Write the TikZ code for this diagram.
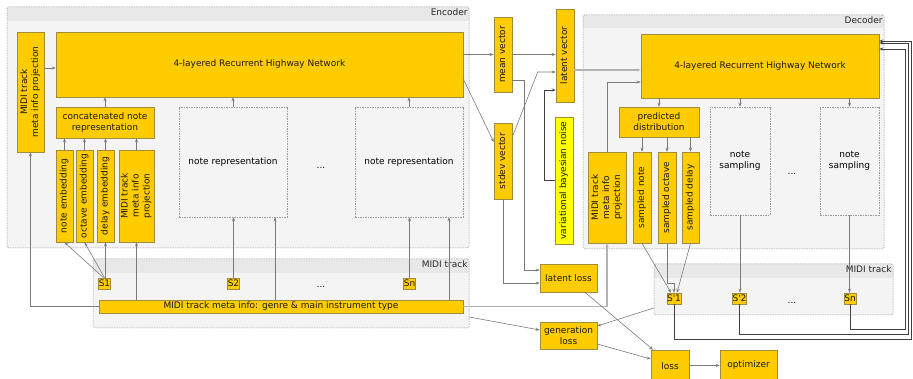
\documentclass[tikz,border=0pt]{standalone}
\usepackage{fontspec}
\setmainfont{DejaVu Sans}
\usetikzlibrary{arrows.meta}

\definecolor{gold}{HTML}{FFCC00}
\definecolor{goldline}{HTML}{A08C3C}
\definecolor{noisefill}{HTML}{FFFF00}
\definecolor{groupfill}{HTML}{F4F4F4}
\definecolor{bandfill}{HTML}{E8E8E8}
\definecolor{groupline}{HTML}{9A9A9A}
\definecolor{wire}{HTML}{7A7A7A}

\newcommand{\vlabel}[1]{\rotatebox{90}{\begin{tabular}{@{}c@{}}#1\end{tabular}}}

\tikzset{
  box/.style={draw=goldline, fill=gold, inner sep=0pt, line width=0.6pt, text=black!90},
  noisebox/.style={box, fill=noisefill},
  ghost/.style={draw=groupline, fill=groupfill, inner sep=0pt, line width=0.5pt,
    dash pattern=on 1.5pt off 1pt, align=center},
  group/.style={draw=groupline, fill=groupfill, inner sep=0pt, line width=0.5pt,
    dash pattern=on 1.5pt off 1pt, rounded corners=1.5pt,
    path picture={\fill[bandfill] (path picture bounding box.north west)
      rectangle ([yshift=-#1]path picture bounding box.north east);}},
  group/.default=14pt,
  grouplabel/.style={anchor=north east, inner sep=1.5pt, text=black!85},
  flow/.style={draw=wire, line width=0.6pt, -{Stealth[length=4pt,width=3pt]}},
  darkflow/.style={flow, draw=black!75, line width=0.9pt},
  paleflow/.style={flow, draw=black!30, line width=1.1pt}
}

\begin{document}
\begin{tikzpicture}[x=1pt,y=-1pt,font=\fontsize{9}{11}\selectfont]
  \useasboundingbox (0,0) rectangle (913,379);

  \node[group, minimum width=462, minimum height=241] (encoder) at (238,127.5) {};
  \node[grouplabel] (encoderLabel) at (encoder.north east) {Encoder};
  \node[box, minimum width=407, minimum height=65] (encRHN) at (259.5,64.5) {4-layered Recurrent Highway Network};
  \node[box, minimum width=27, minimum height=120] (encProj) at (30.5,92) {\vlabel{MIDI track\\meta info projection}};
  \node[box, minimum width=98, minimum height=31, align=center] (concat) at (105,122.5) {concatenated note\\representation};
  \node[box, minimum width=17, minimum height=92] (noteEmb) at (64.5,196) {\vlabel{note embedding}};
  \node[box, minimum width=17, minimum height=92] (octEmb) at (84.5,196) {\vlabel{octave embedding}};
  \node[box, minimum width=17, minimum height=92] (delayEmb) at (105.5,196) {\vlabel{delay embedding}};
  \node[box, minimum width=35, minimum height=92] (encProjNote) at (136.5,196) {\vlabel{MIDI track\\meta info\\projection}};
  \node[ghost, minimum width=108, minimum height=110] (noteRepA) at (233,162) {note representation};
  \node (dotsEnc) at (321,168) {...};
  \node[ghost, minimum width=108, minimum height=110] (noteRepN) at (409,162) {note representation};

  \node[group, minimum width=376, minimum height=69] (encTrack) at (281,293.5) {};
  \node[grouplabel] (encTrackLabel) at (encTrack.north east) {MIDI track};
  \node[box, minimum width=11, minimum height=11] (S1) at (104.5,283.5) {S1};
  \node[box, minimum width=11, minimum height=11] (S2) at (233.5,283.5) {S2};
  \node (dotsTrack) at (321,287) {...};
  \node[box, minimum width=11, minimum height=11] (Sn) at (409.5,283.5) {Sn};
  \node[box, minimum width=364, minimum height=13] (meta) at (281,306.5) {MIDI track meta info: genre \& main instrument type};

  \node[box, minimum width=18, minimum height=75] (mean) at (503,54.5) {\vlabel{mean vector}};
  \node[box, minimum width=18, minimum height=76] (stdev) at (503,161) {\vlabel{stdev vector}};
  \node[box, minimum width=18, minimum height=93] (latent) at (565,55.5) {\vlabel{latent vector}};
  \node[noisebox, minimum width=18, minimum height=127] (noise) at (564,180.5) {\vlabel{variational bayesian noise}};

  \node[group, minimum width=301, minimum height=234, group=13pt] (decoder) at (733.5,132) {};
  \node[grouplabel] (decoderLabel) at (decoder.north east) {Decoder};
  \node[box, minimum width=238, minimum height=64] (decRHN) at (760,66) {4-layered Recurrent Highway Network};
  \node[box, minimum width=80, minimum height=30, align=center] (pred) at (659,122) {predicted\\distribution};
  \node[box, minimum width=38, minimum height=91] (decProj) at (607,197.5) {\vlabel{MIDI track\\meta info\\projection}};
  \node[box, minimum width=18, minimum height=91] (sNote) at (642,197.5) {\vlabel{sampled note}};
  \node[box, minimum width=18, minimum height=91] (sOct) at (667,197.5) {\vlabel{sampled octave}};
  \node[box, minimum width=17, minimum height=91] (sDelay) at (690.5,197.5) {\vlabel{sampled delay}};
  \node[ghost, minimum width=60, minimum height=108] (samplA) at (740,161) {note\\sampling};
  \node (dotsDec) at (792,174) {...};
  \node[ghost, minimum width=59, minimum height=108] (samplN) at (849.5,161) {note\\sampling};

  \node[group, minimum width=239, minimum height=51] (decTrack) at (773.5,289.5) {};
  \node[grouplabel] (decTrackLabel) at (decTrack.north east) {MIDI track};
  \node[box, minimum width=12, minimum height=11] (Sp1) at (674,298.5) {S\textquotesingle1};
  \node[box, minimum width=13, minimum height=11] (Sp2) at (739.5,298.5) {S\textquotesingle2};
  \node (dotsDecTrack) at (792,303) {...};
  \node[box, minimum width=12, minimum height=11] (Spn) at (850,298.5) {Sn};

  \node[box, minimum width=57, minimum height=28] (latentLoss) at (568.5,278) {latent loss};
  \node[box, minimum width=57, minimum height=27, align=center] (genLoss) at (568.5,335.5) {generation\\loss};
  \node[box, minimum width=38, minimum height=32] (loss) at (670,366) {loss};
  \node[box, minimum width=57, minimum height=31] (optimizer) at (748.5,365.5) {optimizer};

  % encoder
  \draw[flow] ([yshift=-3.5pt]encRHN.west -| encProj.east) -- ([yshift=-3.5pt]encRHN.west);
  \draw[flow] (concat.north) -- (concat.north |- encRHN.south);
  \foreach \n in {noteEmb,octEmb,delayEmb,encProjNote}
    \draw[flow] (\n.north) -- (\n.north |- concat.south);
  \foreach \n in {noteRepA,noteRepN}
    \draw[flow] (\n.north) -- (\n.north |- encRHN.south);
  \draw[flow] ([xshift=-1pt]S1.north) -- (noteEmb.south);
  \draw[flow] (S1.north) -- (octEmb.south);
  \draw[flow] (S1.north -| delayEmb) -- (delayEmb.south);
  \draw[flow] (meta.north -| encProjNote) -- (encProjNote.south);
  \draw[flow] (meta.west) -| (encProj.south);
  \draw[flow] (S2.north) -- (S2.north |- noteRepA.south);
  \draw[flow] ([xshift=42pt]noteRepA.south |- meta.north) -- ([xshift=42pt]noteRepA.south);
  \draw[flow] (Sn.north) -- (Sn.north |- noteRepN.south);
  \draw[flow] ([xshift=40pt]noteRepN.south |- meta.north) -- ([xshift=40pt]noteRepN.south);

  % latent space
  \draw[flow] (mean.west -| encRHN.east) -- (mean.west);
  \draw[flow] ([yshift=-14.5pt]encRHN.east) -- ([yshift=19pt]stdev.west);
  \draw[flow] (mean.east) -- (mean.east -| latent.west);
  \draw[flow] ([yshift=24pt]stdev.east) -- ([xshift=-18pt,yshift=-16.5pt]latent.west) -- ([yshift=-16.5pt]latent.west);
  \draw[darkflow] (noise.west) -- ++(-10,0) |- ([yshift=-34.5pt]latent.west);
  \draw[paleflow] ([yshift=-14.5pt]latent.east) -- ([yshift=-14.5pt]latent.east -| decRHN.west);
  \draw[flow] ([yshift=-25.5pt]mean.east) -- ++(12,0) |- ([yshift=8pt]latentLoss.west);
  \draw[flow] (stdev.south) |- ([yshift=-5pt]latentLoss.west);

  % decoder
  \draw[flow] (decProj.north) |- ([yshift=-16pt]decRHN.west);
  \draw[flow] (pred.north |- decRHN.south) -- (pred.north);
  \foreach \n in {samplA,samplN}
    \draw[flow] (\n.north |- decRHN.south) -- (\n.north);
  \foreach \n in {sNote,sOct,sDelay}
    \draw[flow] (\n.north |- pred.south) -- (\n.north);
  \draw[flow] (sNote.south) -- ([xshift=-3pt]Sp1.north);
  \draw[flow] (sOct.south) -- ++(0,40) -| (Sp1.north);
  \draw[flow] (sDelay.south) -- ([xshift=3pt]Sp1.north);
  \draw[flow] (samplA.south) -- (samplA.south |- Sp2.north);
  \draw[flow] (samplN.south) -- (samplN.south |- Spn.north);
  \draw[darkflow] (Sp1.south) -- ++(0,35) -- ++(237.5,0) |- ([yshift=25pt]decRHN.east);
  \draw[darkflow] (Sp2.south) -- ++(0,30) -- ++(169,0) |- ([yshift=23pt]decRHN.east);
  \draw[darkflow] (Spn.south) -- ++(0,25) -- ++(55,0) |- ([yshift=17pt]decRHN.east);
  \draw[paleflow] (meta.east) -| (decProj.south);

  % losses
  \draw[flow] ([yshift=-23.5pt]encTrack.east) -- ([yshift=5.5pt]genLoss.west);
  \draw[flow] ([yshift=-18.5pt]decTrack.west) -- ([yshift=9.5pt]genLoss.east);
  \draw[flow] ([xshift=16.5pt]latentLoss.south) -- ([xshift=-17pt]loss.north);
  \draw[flow] ([yshift=-8.5pt]genLoss.east) -- ([yshift=7pt]loss.west);
  \draw[flow] (loss.east |- optimizer.west) -- (optimizer.west);
\end{tikzpicture}
\end{document}
